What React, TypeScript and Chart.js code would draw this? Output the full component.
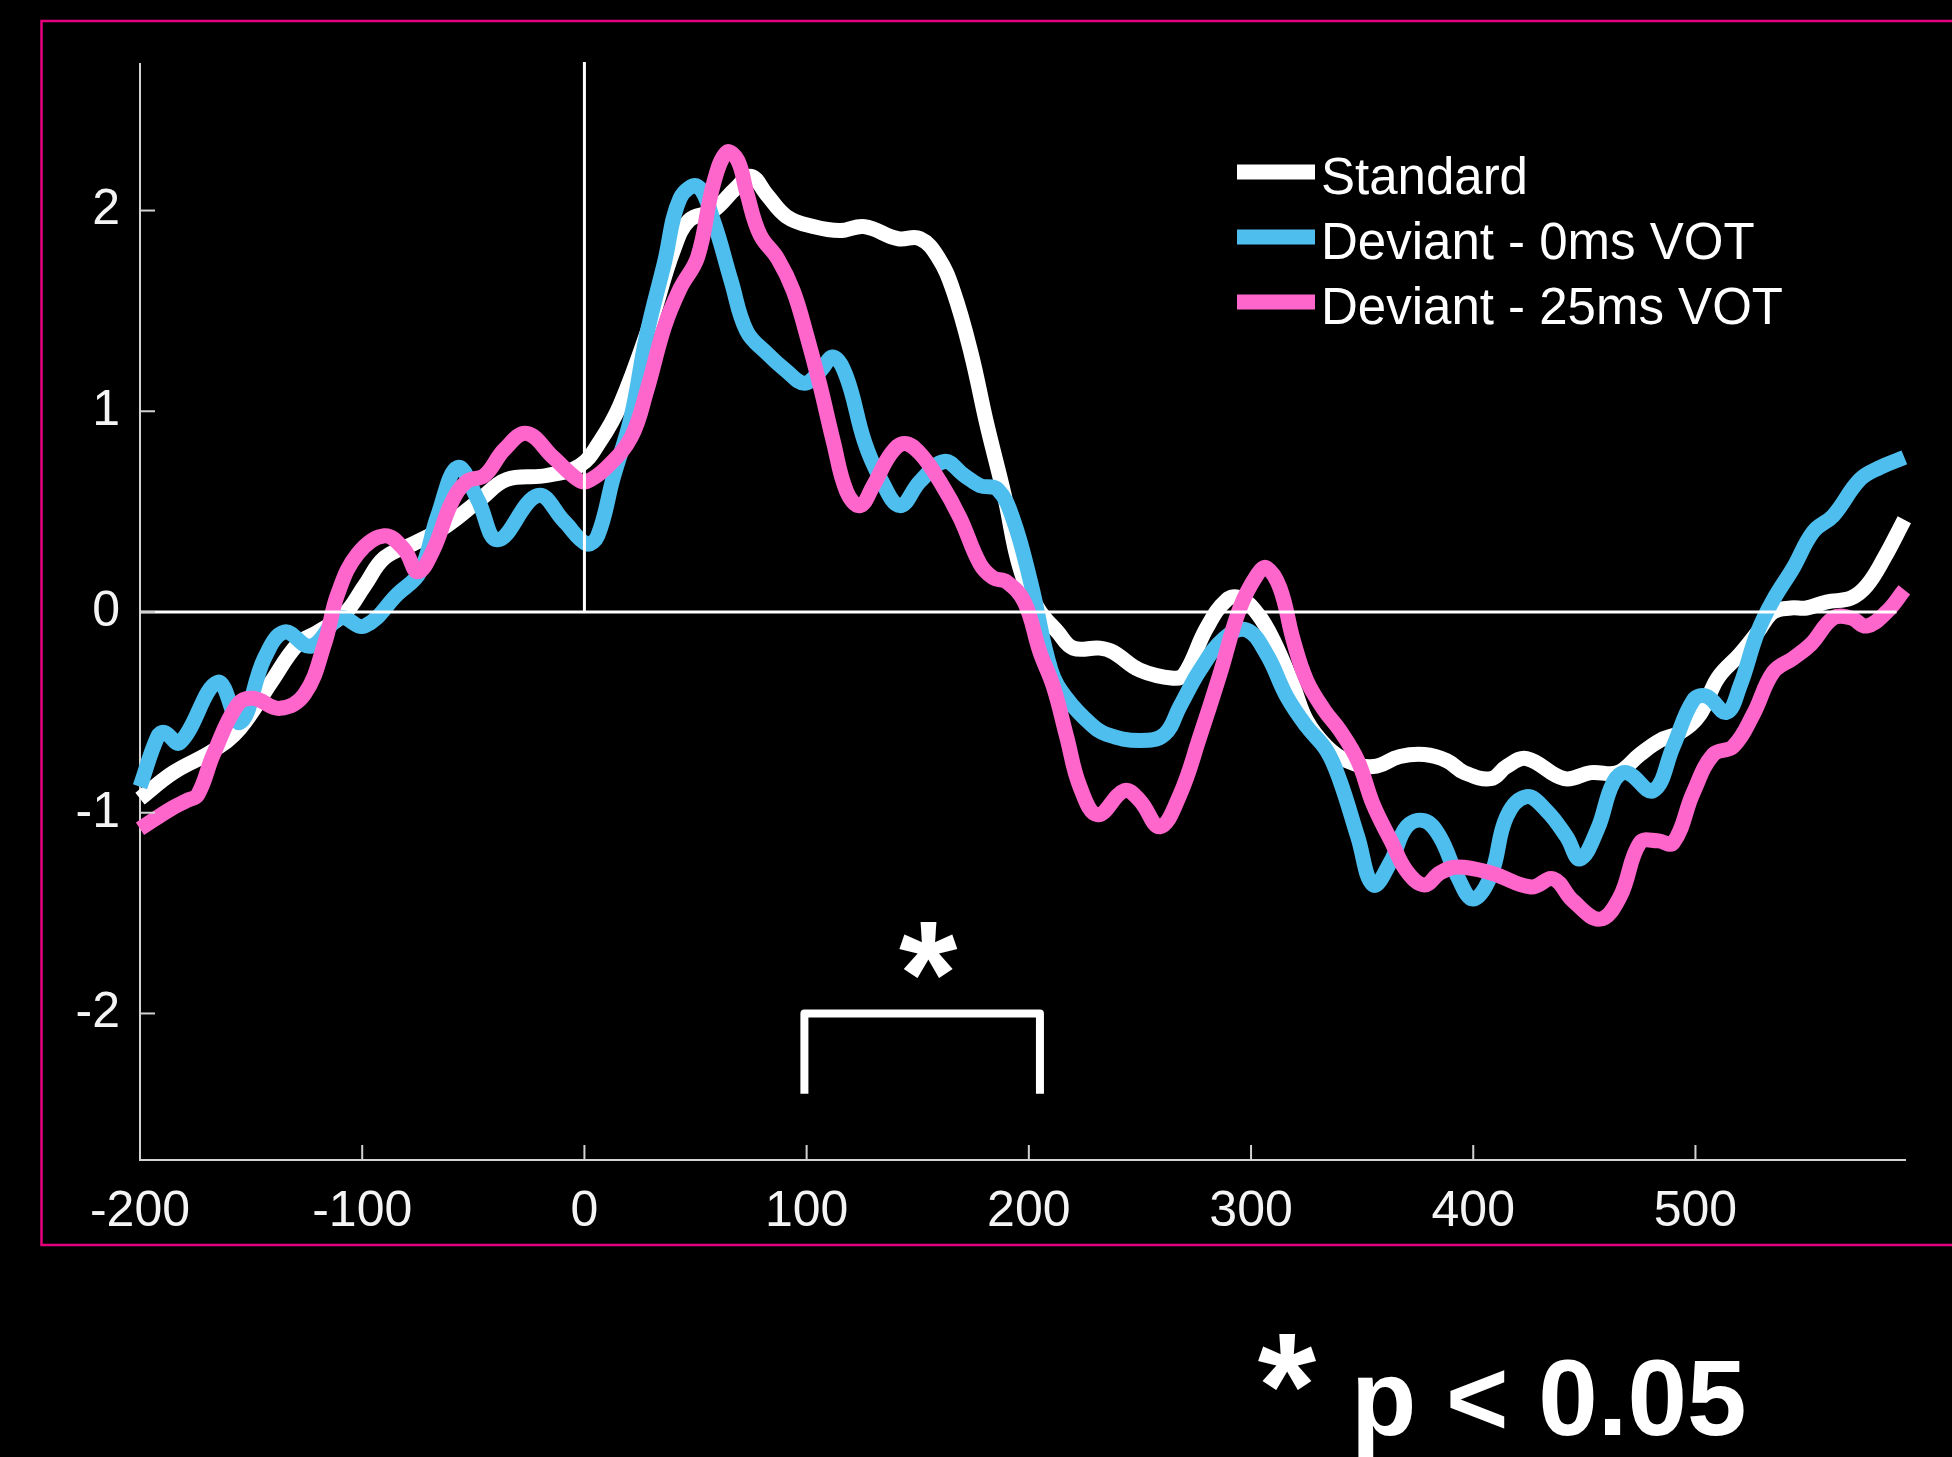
import React, { useEffect, useRef } from 'react';
import { Chart, registerables } from 'chart.js';

Chart.register(...registerables);

// ---------- data ----------
const xTickValues = [-200, -100, 0, 100, 200, 300, 400, 500];
const yTickValues = [-2, -1, 0, 1, 2];
const seriesLabels = ['Standard', 'Deviant - 0ms VOT', 'Deviant - 25ms VOT'];
const seriesColors = ['#ffffff', '#4dbeee', '#ff66cc'];

const standardTimes = [-200, -185, -167, -155, -141, -129, -120, -108, -99, -90, -77, -62, -47, -35, -17, -2, 7, 16, 30, 40, 47, 58, 68, 75, 82, 91, 103, 115, 126, 141, 151, 159, 166, 174, 181, 189, 196, 204, 213, 220, 232, 238, 250, 265, 270, 280, 289, 295, 303, 310, 319, 325, 334, 343, 355, 367, 378, 388, 396, 408, 415, 424, 441, 453, 465, 475, 484, 493, 502, 510, 520, 528, 535, 543, 550, 559, 570, 577, 585, 594];
const standardValues = [-0.93, -0.8, -0.69, -0.58, -0.35, -0.16, -0.1, -0.01, 0.13, 0.27, 0.34, 0.43, 0.56, 0.66, 0.68, 0.73, 0.85, 1.03, 1.45, 1.8, 1.95, 2.0, 2.11, 2.17, 2.08, 1.97, 1.92, 1.9, 1.92, 1.86, 1.86, 1.77, 1.6, 1.29, 0.94, 0.58, 0.22, 0.02, -0.1, -0.18, -0.18, -0.2, -0.29, -0.33, -0.31, -0.08, 0.06, 0.07, -0.01, -0.14, -0.37, -0.54, -0.67, -0.74, -0.77, -0.72, -0.71, -0.74, -0.8, -0.83, -0.77, -0.73, -0.83, -0.8, -0.8, -0.71, -0.64, -0.6, -0.51, -0.33, -0.21, -0.1, 0.0, 0.02, 0.02, 0.05, 0.07, 0.13, 0.27, 0.46];

const dev0Times = [-200, -192, -189, -182, -165, -155, -144, -135, -123, -110, -99, -84, -74, -66, -57, -48, -39, -21, -9, 1, 6, 13, 21, 28, 36, 43, 51, 58, 66, 73, 82, 91, 99, 106, 112, 118, 126, 133, 142, 151, 162, 171, 178, 186, 193, 201, 210, 217, 228, 235, 250, 261, 268, 277, 288, 298, 307, 316, 325, 334, 340, 348, 355, 363, 370, 378, 385, 393, 400, 408, 415, 424, 433, 442, 448, 456, 463, 469, 481, 490, 499, 505, 514, 520, 528, 535, 544, 553, 562, 574, 583, 594];
const dev0Values = [-0.87, -0.62, -0.6, -0.65, -0.35, -0.55, -0.23, -0.1, -0.17, -0.03, -0.07, 0.09, 0.2, 0.48, 0.72, 0.56, 0.36, 0.58, 0.45, 0.34, 0.38, 0.67, 0.97, 1.38, 1.74, 2.06, 2.12, 1.95, 1.65, 1.4, 1.29, 1.2, 1.14, 1.2, 1.27, 1.17, 0.85, 0.67, 0.53, 0.65, 0.75, 0.68, 0.63, 0.61, 0.46, 0.14, -0.29, -0.43, -0.56, -0.61, -0.64, -0.61, -0.47, -0.29, -0.13, -0.09, -0.21, -0.42, -0.57, -0.69, -0.84, -1.12, -1.36, -1.24, -1.07, -1.04, -1.12, -1.32, -1.43, -1.31, -1.02, -0.92, -0.99, -1.12, -1.23, -1.08, -0.85, -0.8, -0.89, -0.67, -0.44, -0.42, -0.5, -0.37, -0.1, 0.06, 0.22, 0.4, 0.48, 0.66, 0.72, 0.77];

const dev25Times = [-200, -186, -179, -174, -167, -156, -149, -137, -126, -117, -111, -102, -90, -81, -75, -68, -60, -53, -45, -36, -26, -14, -3, 1, 10, 21, 28, 36, 43, 51, 58, 64, 69, 73, 79, 87, 94, 100, 106, 112, 118, 124, 130, 138, 144, 151, 160, 169, 178, 184, 190, 198, 205, 211, 217, 223, 231, 243, 250, 259, 268, 277, 286, 295, 303, 307, 313, 319, 325, 333, 340, 348, 355, 363, 370, 378, 385, 393, 408, 426, 436, 445, 457, 466, 475, 483, 490, 499, 508, 517, 526, 535, 544, 552, 562, 570, 577, 586, 594];
const dev25Values = [-1.08, -0.98, -0.94, -0.91, -0.71, -0.46, -0.43, -0.48, -0.41, -0.16, 0.09, 0.29, 0.38, 0.31, 0.2, 0.31, 0.54, 0.65, 0.68, 0.81, 0.89, 0.77, 0.66, 0.65, 0.72, 0.87, 1.1, 1.42, 1.61, 1.77, 2.13, 2.29, 2.25, 2.09, 1.88, 1.76, 1.6, 1.38, 1.13, 0.85, 0.6, 0.53, 0.63, 0.79, 0.84, 0.79, 0.65, 0.47, 0.24, 0.17, 0.15, 0.05, -0.2, -0.37, -0.62, -0.87, -1.01, -0.89, -0.94, -1.07, -0.91, -0.62, -0.31, 0.02, 0.19, 0.22, 0.12, -0.14, -0.34, -0.49, -0.59, -0.74, -0.96, -1.14, -1.29, -1.36, -1.3, -1.27, -1.3, -1.37, -1.33, -1.44, -1.53, -1.42, -1.15, -1.14, -1.15, -0.9, -0.71, -0.67, -0.51, -0.3, -0.23, -0.16, -0.03, -0.03, -0.07, 0.0, 0.11];

const sigWindow = [99, 205];
const sigLevels = [-2.0, -2.4];
const sigMark = '*';
const footnoteText = 'p < 0.05';

const X_MIN = -200;
const X_MAX = 594.3;
const Y_MIN = -2.73;
const Y_MAX = 2.73;
const ZERO_LINE_END = 590.5;

const FONT = '"Liberation Sans", Arial, Helvetica, sans-serif';
const AXIS_COLOR = '#d2d2d2';

function toPoints(ts: number[], vs: number[]) {
  return ts.map((t, i) => ({ x: t, y: vs[i] }));
}

const overlayPlugin = {
  id: 'overlay',
  beforeDraw(chart: any) {
    const { ctx, width, height } = chart;
    ctx.save();
    ctx.fillStyle = '#000';
    ctx.fillRect(0, 0, width, height);
    ctx.strokeStyle = '#e4007c';
    ctx.lineWidth = 2.5;
    ctx.beginPath();
    ctx.moveTo(width + 5, 21);
    ctx.lineTo(41.5, 21);
    ctx.lineTo(41.5, 1245);
    ctx.lineTo(width + 5, 1245);
    ctx.stroke();
    ctx.restore();
  },
  afterDatasetsDraw(chart: any) {
    const { ctx, chartArea } = chart;
    const xs = chart.scales.x;
    const ys = chart.scales.y;
    const y0 = ys.getPixelForValue(0);
    const x0 = xs.getPixelForValue(0);
    ctx.save();
    ctx.strokeStyle = '#ffffff';
    ctx.lineWidth = 3;
    ctx.beginPath();
    ctx.moveTo(chartArea.left, y0);
    ctx.lineTo(xs.getPixelForValue(ZERO_LINE_END), y0);
    ctx.stroke();
    ctx.beginPath();
    ctx.moveTo(x0, chartArea.top - 2);
    ctx.lineTo(x0, y0);
    ctx.stroke();

    // tick marks (inward)
    ctx.strokeStyle = AXIS_COLOR;
    ctx.lineWidth = 2;
    yTickValues.forEach((v) => {
      const py = ys.getPixelForValue(v);
      ctx.beginPath();
      ctx.moveTo(chartArea.left, py);
      ctx.lineTo(chartArea.left + 15, py);
      ctx.stroke();
    });
    xTickValues.forEach((v) => {
      const px = xs.getPixelForValue(v);
      ctx.beginPath();
      ctx.moveTo(px, chartArea.bottom);
      ctx.lineTo(px, chartArea.bottom - 15);
      ctx.stroke();
    });

    // significance bracket
    const bx1 = xs.getPixelForValue(sigWindow[0]);
    const bx2 = xs.getPixelForValue(sigWindow[1]);
    const byTop = ys.getPixelForValue(sigLevels[0]);
    const byBot = ys.getPixelForValue(sigLevels[1]);
    ctx.strokeStyle = '#ffffff';
    ctx.lineWidth = 8;
    ctx.lineJoin = 'round';
    ctx.lineCap = 'butt';
    ctx.beginPath();
    ctx.moveTo(bx1, byBot);
    ctx.lineTo(bx1, byTop);
    ctx.lineTo(bx2, byTop);
    ctx.lineTo(bx2, byBot);
    ctx.stroke();

    ctx.fillStyle = '#ffffff';
    ctx.font = 'bold 150px ' + FONT;
    ctx.textAlign = 'center';
    ctx.textBaseline = 'alphabetic';
    ctx.fillText(sigMark, (bx1 + bx2) / 2 + 6, byTop + 13);

    // legend
    const datasets = chart.data.datasets;
    datasets
      .slice()
      .sort((a: any, b: any) => a.legendIndex - b.legendIndex)
      .forEach((ds: any, i: number) => {
        const ry = 172 + i * 65;
        ctx.strokeStyle = ds.borderColor;
        ctx.lineWidth = 15;
        ctx.lineCap = 'butt';
        ctx.beginPath();
        ctx.moveTo(1237, ry);
        ctx.lineTo(1315, ry);
        ctx.stroke();
        ctx.fillStyle = '#ffffff';
        ctx.font = '51px ' + FONT;
        ctx.textAlign = 'left';
        ctx.textBaseline = 'alphabetic';
        ctx.fillText(ds.label, 1321, ry + 22);
      });

    // footnote
    ctx.fillStyle = '#ffffff';
    ctx.font = 'bold 150px ' + FONT;
    ctx.textAlign = 'center';
    ctx.fillText(sigMark, 1287, 1438);
    ctx.font = 'bold 107px ' + FONT;
    ctx.textAlign = 'left';
    ctx.fillText(footnoteText, 1351, 1435);
    ctx.restore();
  },
};

export default function App() {
  const ref = useRef<HTMLCanvasElement | null>(null);

  useEffect(() => {
    if (!ref.current) return;
    const mk = (idx: number, ts: number[], vs: number[], order: number) => ({
      label: seriesLabels[idx],
      data: toPoints(ts, vs),
      borderColor: seriesColors[idx],
      backgroundColor: seriesColors[idx],
      borderWidth: 15,
      pointRadius: 0,
      fill: false,
      tension: 0.4,
      borderJoinStyle: 'round' as const,
      borderCapStyle: 'butt' as const,
      clip: false as any,
      order,
      legendIndex: idx,
    });
    const chart = new Chart(ref.current, {
      type: 'line',
      data: {
        datasets: [
          mk(2, dev25Times, dev25Values, 1),
          mk(1, dev0Times, dev0Values, 2),
          mk(0, standardTimes, standardValues, 3),
        ] as any,
      },
      options: {
        animation: false,
        responsive: false,
        devicePixelRatio: 1,
        layout: { padding: { left: 0, right: 47, top: 64, bottom: 0 } },
        plugins: { legend: { display: false }, tooltip: { enabled: false } },
        scales: {
          x: {
            type: 'linear',
            min: X_MIN,
            max: X_MAX,
            afterBuildTicks: (s: any) => {
              s.ticks = xTickValues.map((v) => ({ value: v }));
            },
            afterFit: (s: any) => {
              s.height = 297;
            },
            grid: { display: false, drawTicks: false },
            border: { display: true, color: AXIS_COLOR, width: 2 },
            ticks: {
              color: '#f4f4f4',
              font: { family: FONT, size: 50 },
              padding: 22,
              maxRotation: 0,
              autoSkip: false,
              callback: (v: any) => String(v),
            },
          },
          y: {
            type: 'linear',
            min: Y_MIN,
            max: Y_MAX,
            afterBuildTicks: (s: any) => {
              s.ticks = yTickValues.map((v) => ({ value: v }));
            },
            afterFit: (s: any) => {
              s.width = 140;
            },
            grid: { display: false, drawTicks: false },
            border: { display: true, color: AXIS_COLOR, width: 2 },
            ticks: {
              color: '#f4f4f4',
              font: { family: FONT, size: 50 },
              padding: 20,
              autoSkip: false,
              callback: (v: any) => String(v),
            },
          },
        },
      },
      plugins: [overlayPlugin],
    });
    return () => chart.destroy();
  }, []);

  return (
    <div style={{ position: 'fixed', left: 0, top: 0, width: 1952, height: 1457, background: '#000', overflow: 'hidden' }}>
      <canvas ref={ref} width={1952} height={1457} style={{ display: 'block', width: 1952, height: 1457 }} />
    </div>
  );
}
